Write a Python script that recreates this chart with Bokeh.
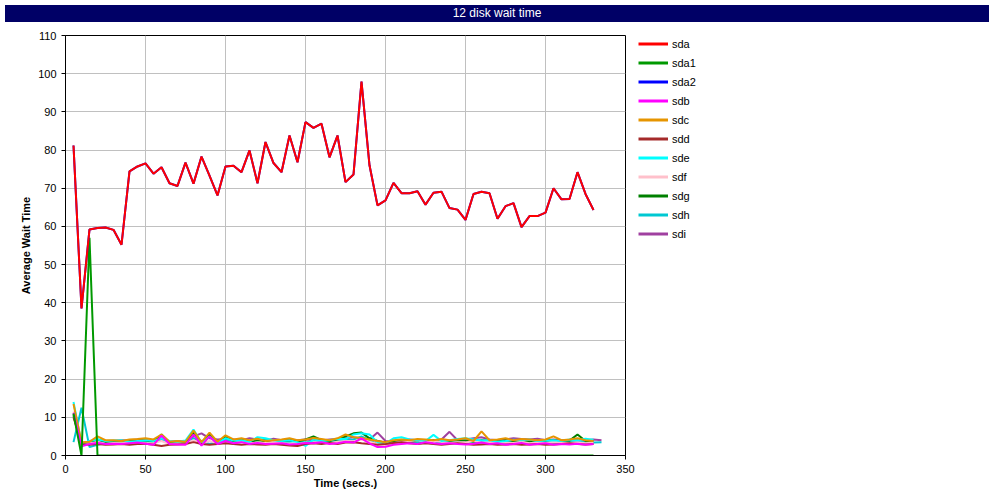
from bokeh.plotting import figure
from bokeh.models import Div, Legend, LegendItem, Range1d, FixedTicker
from bokeh.layouts import column, row
from bokeh.embed import file_html
from bokeh.resources import INLINE

# ---- data (x in seconds, step 5) ----
sda = [81.2, 38.5, 59.2, 59.6, 59.7, 59.1, 55.2, 74.4, 75.7, 76.5,
       73.8, 75.5, 71.3, 70.6, 76.7, 71.2, 78.3, 73.3, 68.1, 75.7,
       75.9, 74.2, 79.9, 71.3, 82.1, 76.6, 74.2, 83.8, 76.8, 87.3,
       85.8, 86.9, 78.1, 83.8, 71.6, 73.6, 97.9, 76.0, 65.5, 66.8,
       71.4, 68.7, 68.7, 69.2, 65.7, 68.8, 69.1, 64.8, 64.4, 61.7,
       68.5, 69.1, 68.7, 62.0, 65.3, 66.1, 59.8, 62.7, 62.7, 63.6,
       70.0, 67.1, 67.2, 74.2, 68.5, 64.3]
sda1 = [11.0, 0.0, 57.0, 0.0, 0.0, 0.0, 0.0, 0.0, 0.0, 0.0,
        0.0, 0.0, 0.0, 0.0, 0.0, 0.0, 0.0, 0.0, 0.0, 0.0,
        0.0, 0.0, 0.0, 0.0, 0.0, 0.0, 0.0, 0.0, 0.0, 0.0,
        0.0, 0.0, 0.0, 0.0, 0.0, 0.0, 0.0, 0.0, 0.0, 0.0,
        0.0, 0.0, 0.0, 0.0, 0.0, 0.0, 0.0, 0.0, 0.0, 0.0,
        0.0, 0.0, 0.0, 0.0, 0.0, 0.0, 0.0, 0.0, 0.0, 0.0,
        0.0, 0.0, 0.0, 0.0, 0.0, 0.0]
sda2 = list(sda)
sdb = [11.2, 2.4, 3.0, 3.3, 3.0, 3.1, 3.0, 3.2, 3.4, 3.1,
       2.8, 5.2, 3.0, 2.9, 2.8, 5.5, 2.6, 5.0, 3.0, 3.8,
       3.2, 3.5, 3.0, 3.3, 3.0, 3.1, 3.2, 2.9, 3.0, 3.3,
       3.2, 3.5, 3.0, 3.2, 3.6, 3.4, 4.5, 3.2, 2.2, 2.3,
       2.8, 3.0, 3.2, 3.0, 3.5, 3.2, 3.0, 3.2, 3.0, 2.9,
       3.1, 3.4, 3.0, 3.2, 2.8, 3.0, 3.3, 2.8, 3.0, 3.2,
       2.8, 3.0, 2.9, 3.1, 2.8, 3.0]
sdc = [13.5, 3.5, 3.6, 5.0, 4.0, 4.0, 3.8, 4.2, 4.3, 4.5,
       4.2, 5.5, 3.6, 3.8, 3.6, 6.5, 3.5, 6.0, 3.6, 5.3,
       4.2, 4.5, 4.0, 4.4, 3.8, 4.0, 4.2, 4.5, 4.0, 4.2,
       4.6, 4.3, 4.0, 4.5, 5.5, 4.8, 4.6, 4.2, 3.8, 3.5,
       4.0, 4.2, 4.0, 4.3, 4.2, 4.0, 4.3, 4.0, 4.2, 4.5,
       3.8, 6.3, 4.0, 4.2, 4.5, 4.0, 4.3, 4.2, 4.0, 4.2,
       5.0, 4.0, 4.2, 4.5, 4.0, 3.8]
sdd = [10.0, 3.0, 2.8, 3.0, 2.8, 2.9, 3.0, 2.8, 3.0, 3.1,
       2.8, 2.5, 2.8, 2.9, 3.0, 3.5, 3.0, 2.8, 3.0, 3.2,
       3.0, 2.8, 3.0, 2.9, 2.8, 3.0, 2.8, 2.6, 2.5, 3.0,
       3.2, 3.0, 3.3, 3.0, 3.4, 3.5, 3.2, 3.0, 2.8, 3.0,
       3.3, 3.5, 3.2, 3.0, 3.2, 3.0, 2.8, 3.0, 3.2, 3.0,
       2.8, 2.9, 3.0, 2.8, 2.9, 3.0, 2.8, 2.9, 3.0, 2.8,
       2.9, 3.0, 3.2, 3.0, 2.9, 3.0]
sde = [14.0, 3.0, 3.8, 4.2, 3.8, 3.9, 4.0, 3.6, 3.8, 4.0,
       3.8, 4.5, 3.8, 3.6, 3.9, 6.8, 3.2, 5.0, 3.3, 4.5,
       3.9, 4.0, 3.6, 4.8, 4.5, 4.0, 3.8, 4.0, 3.5, 2.5,
       4.2, 3.8, 4.0, 4.4, 4.3, 5.5, 5.8, 5.5, 3.5, 3.2,
       4.5, 4.8, 4.2, 4.0, 3.8, 5.4, 3.8, 4.0, 4.3, 4.5,
       4.2, 3.9, 4.0, 3.6, 3.8, 4.1, 4.0, 4.2, 3.8, 3.9,
       4.0, 3.8, 4.2, 4.0, 4.4, 4.1]
sdf = [11.5, 2.8, 3.2, 3.5, 3.0, 3.3, 3.2, 3.4, 3.5, 3.3,
       3.2, 3.8, 3.0, 3.2, 3.1, 4.0, 3.0, 3.8, 3.2, 3.5,
       3.3, 3.6, 3.2, 3.4, 3.2, 3.6, 3.3, 3.1, 3.2, 3.3,
       3.5, 3.4, 3.2, 3.6, 3.8, 3.7, 4.2, 3.6, 3.0, 2.8,
       3.2, 3.6, 3.8, 4.0, 3.5, 3.8, 3.6, 3.3, 3.5, 3.4,
       3.8, 3.5, 3.6, 3.2, 3.4, 3.3, 3.6, 3.2, 3.5, 3.3,
       3.6, 3.4, 3.3, 3.5, 3.2, 3.4]
sdg = [10.5, 2.8, 3.5, 4.2, 3.6, 3.8, 3.7, 3.8, 4.0, 3.9,
       3.6, 5.5, 3.5, 3.6, 3.5, 6.0, 3.4, 5.5, 3.5, 4.8,
       3.8, 4.2, 3.6, 4.0, 3.8, 3.7, 3.9, 4.0, 3.7, 4.2,
       5.0, 4.0, 3.8, 4.2, 5.0, 5.8, 6.0, 4.5, 3.8, 3.4,
       3.8, 4.0, 3.5, 4.0, 3.8, 4.0, 3.9, 3.8, 4.0, 3.9,
       3.6, 4.0, 3.8, 3.7, 4.0, 3.8, 3.9, 3.7, 3.8, 4.0,
       3.9, 3.8, 3.9, 5.5, 3.8, 3.7]
sdh = [3.5, 12.5, 2.2, 2.8, 3.2, 3.5, 3.4, 3.6, 3.8, 3.6,
       3.5, 4.0, 3.4, 3.3, 3.5, 4.5, 3.8, 3.0, 3.6, 4.0,
       3.5, 3.8, 3.6, 4.0, 4.2, 3.8, 3.5, 3.6, 3.8, 3.4,
       3.8, 3.6, 3.5, 3.8, 4.0, 4.2, 5.0, 4.0, 3.0, 3.2,
       3.6, 3.8, 3.5, 3.6, 3.4, 3.8, 3.2, 3.4, 3.5, 3.3,
       3.6, 3.5, 3.4, 3.0, 3.5, 3.6, 3.4, 3.5, 3.3, 3.6,
       3.4, 3.5, 3.6, 3.8, 3.5, 3.4, 3.5]
sdi = [10.8, 3.2, 3.6, 4.0, 3.8, 3.8, 4.0, 3.9, 4.2, 4.0,
       3.8, 4.5, 3.6, 3.8, 3.7, 5.0, 5.8, 4.5, 4.2, 4.3,
       4.2, 4.0, 4.5, 4.2, 3.9, 4.4, 4.0, 4.2, 4.0, 4.2,
       4.0, 3.9, 4.2, 4.3, 4.5, 4.8, 4.5, 4.2, 6.0, 3.8,
       3.6, 4.0, 4.2, 4.0, 3.8, 4.0, 4.2, 6.2, 4.0, 4.2,
       4.5, 4.8, 4.2, 4.0, 4.2, 4.5, 4.3, 4.2, 4.4, 4.0,
       4.2, 4.0, 4.1, 4.3, 4.0, 4.2, 4.0]

names = ["sda", "sda1", "sda2", "sdb", "sdc", "sdd", "sde", "sdf", "sdg", "sdh", "sdi"]
series = [sda, sda1, sda2, sdb, sdc, sdd, sde, sdf, sdg, sdh, sdi]
colors = ["#ff0000", "#009900", "#0000ff", "#ff00ff", "#e69500", "#a52a2a",
          "#00ffff", "#ffc0cb", "#008000", "#00c8d2", "#a040a0"]
step = 5
x_ticks = [0, 50, 100, 150, 200, 250, 300, 350]
y_ticks = [0, 10, 20, 30, 40, 50, 60, 70, 80, 90, 100, 110]

FONT = "Liberation Sans"

title = Div(text="12 disk wait time", width=984, height=17,
            styles={"background-color": "#000066", "color": "white",
                    "text-align": "center", "font-family": FONT,
                    "font-size": "12px", "line-height": "17px",
                    "width": "984px", "height": "17px"})

p = figure(width=635, height=471, output_backend="svg", toolbar_location=None,
           x_range=Range1d(0, 350), y_range=Range1d(0, 110),
           min_border_left=65, min_border_right=10, min_border_top=8,
           min_border_bottom=43)
p.background_fill_color = "white"
p.border_fill_color = "white"
p.outline_line_color = "black"
p.outline_line_width = 1

p.xgrid.ticker = FixedTicker(ticks=x_ticks)
p.ygrid.ticker = FixedTicker(ticks=y_ticks)
p.xaxis.ticker = FixedTicker(ticks=x_ticks)
p.yaxis.ticker = FixedTicker(ticks=y_ticks)
for g in (p.xgrid, p.ygrid):
    g.grid_line_color = "#c0c0c0"
    g.grid_line_width = 1
for ax in (p.xaxis, p.yaxis):
    ax.axis_line_color = "black"
    ax.major_tick_line_color = "black"
    ax.major_tick_out = 4
    ax.major_tick_in = 0
    ax.minor_tick_line_color = None
    ax.major_label_text_font = FONT
    ax.major_label_text_font_size = "11px"
    ax.major_label_text_color = "black"
    ax.axis_label_text_font = FONT
    ax.axis_label_text_font_size = "11px"
    ax.axis_label_text_font_style = "bold"
    ax.axis_label_text_color = "black"
p.xaxis.axis_label = "Time (secs.)"
p.yaxis.axis_label = "Average Wait Time"
p.xaxis.axis_label_standoff = 1
p.yaxis.axis_label_standoff = 3

draw_order = ["sdi", "sdh", "sdg", "sdf", "sde", "sdd", "sdc", "sdb", "sda1", "sda2", "sda"]
for nm in draw_order:
    i = names.index(nm)
    vals = series[i]
    xs = list(range(step, step * len(vals) + 1, step))
    p.line(xs, vals, line_color=colors[i], line_width=2)

# legend panel to the right of the chart (series drawn out of its view,
# only their legend swatches show)
lp = figure(width=349, height=471, output_backend="svg", toolbar_location=None,
            x_range=Range1d(-2, -1), y_range=Range1d(-2, -1),
            x_axis_location=None, y_axis_location=None, min_border=0)
lp.grid.visible = False
lp.outline_line_color = None
lp.background_fill_color = "white"
lp.border_fill_color = "white"
items = []
for nm, c, vals in zip(names, colors, series):
    xs = list(range(step, step * len(vals) + 1, step))
    r = lp.line(xs, vals, line_color=c, line_width=3)
    items.append(LegendItem(label=nm, renderers=[r]))
legend = Legend(items=items, location=(3, 212), margin=0, padding=0,
                spacing=0, label_height=19, glyph_height=19, glyph_width=30,
                label_standoff=4, label_text_font=FONT,
                label_text_font_size="11px", label_text_color="black",
                border_line_alpha=0, background_fill_alpha=0)
lp.add_layout(legend, "center")

layout = column(title, row(p, lp, spacing=0), spacing=0)
open("out.html", "w").write(file_html(layout, INLINE))
